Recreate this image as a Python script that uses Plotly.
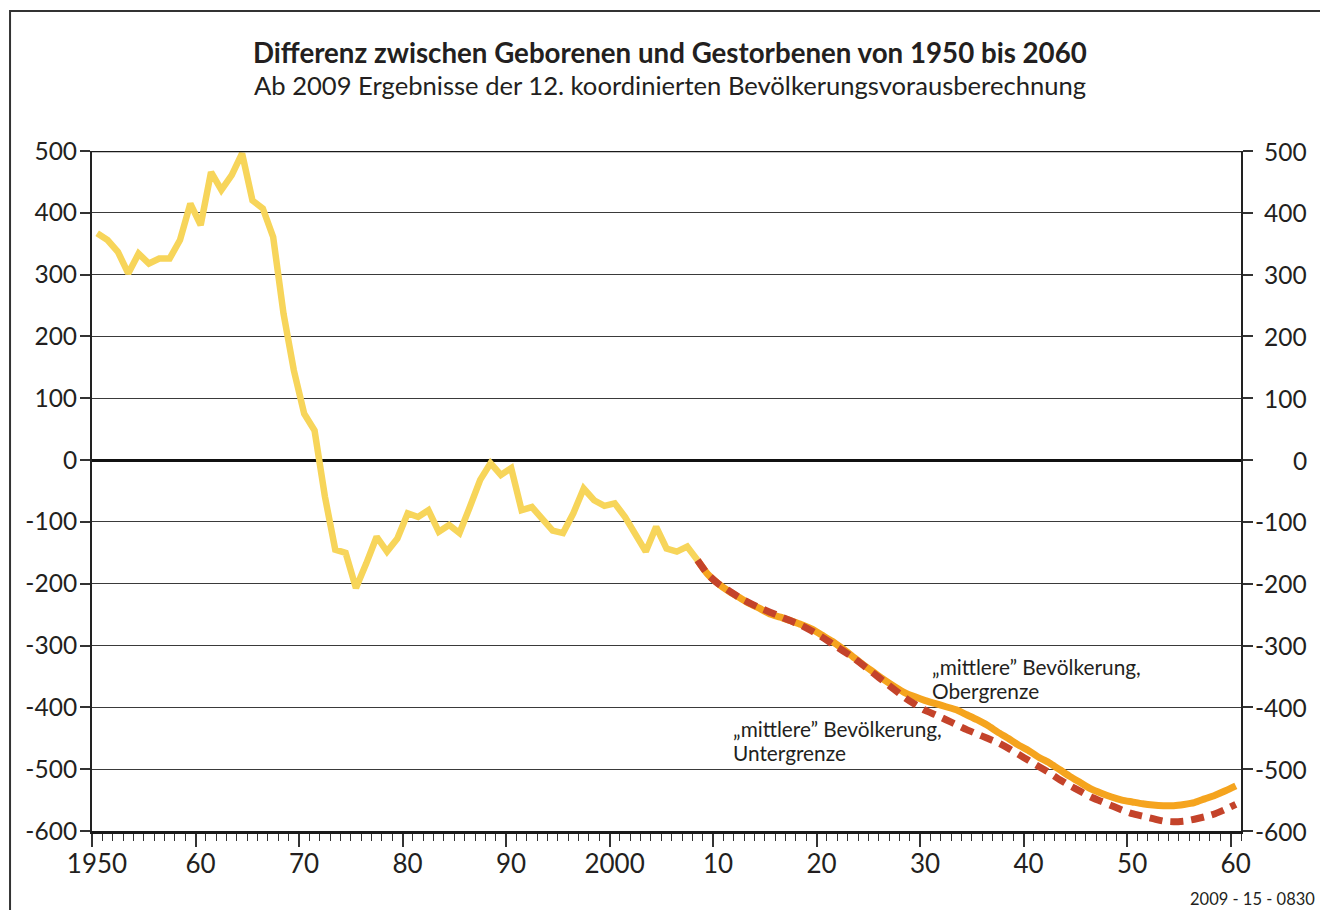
import plotly.graph_objects as go

# ---------------- data ----------------
hist_years = list(range(1950, 2009))
hist_values = [367, 356, 337, 302, 334, 318, 326, 326, 356, 415,
               380, 466, 437, 461, 496, 420, 407, 361, 237, 145,
               75, 48, -59, -145, -150, -207, -167, -124, -148, -127,
               -86, -92, -81, -116, -105, -118, -76, -32, -5, -24,
               -13, -81, -76, -97, -114, -118, -86, -46, -65, -74,
               -70, -92, -118, -148, -108, -143, -148, -140, -162]

proj_years = list(range(2008, 2061))
upper_values = [-162, -185, -200, -212, -222, -232, -240, -249, -254, -260,
                -266, -273, -283, -293, -305, -318, -331, -343, -355, -366,
                -376, -383, -389, -394, -399, -404, -412, -420, -429, -440,
                -450, -461, -470, -481, -490, -501, -512, -522, -532, -539,
                -545, -550, -553, -556, -558, -559, -559, -557, -554, -548,
                -542, -535, -527]
lower_values = [-162, -185, -200, -211, -222, -231, -239, -246, -253, -260,
                -267, -276, -286, -297, -308, -319, -332, -345, -358, -371,
                -384, -395, -405, -412, -420, -428, -436, -443, -450, -457,
                -466, -476, -486, -496, -506, -517, -527, -536, -545, -552,
                -559, -566, -572, -576, -580, -584, -585, -584, -581, -577,
                -572, -565, -557]

x_tickvals = list(range(1950, 2061, 10))
x_ticktext = ["1950", "60", "70", "80", "90", "2000", "10", "20", "30", "40", "50", "60"]
y_tickvals = list(range(-600, 501, 100))
y_ticktext = [str(v) for v in y_tickvals]

title = "Differenz zwischen Geborenen und Gestorbenen von 1950 bis 2060"
subtitle = "Ab 2009 Ergebnisse der 12. koordinierten Bevölkerungsvorausberechnung"
label_upper = ["„mittlere” Bevölkerung,", "Obergrenze"]
label_lower = ["„mittlere” Bevölkerung,", "Untergrenze"]
source_code = "2009 - 15 - 0830"

# ---------------- layout constants ----------------
OFF = 8                      # page body margin offset
W, H = 1328 - OFF, 918 - 2 * OFF
PL, PR, PT, PB = 92, 1241.5, 151, 831   # plot area in window pixels
ML, MR, MT, MB = PL - OFF, (OFF + W) - PR, PT - OFF, (OFF + H) - PB
PW, PH = W - ML - MR, H - MT - MB
FONT = "Lato"
TXT = "#231f20"
GRID = "#3a3a3a"

def px_x(px):
    return (px - PL) / PW

def px_y(py):
    return (PB - py) / PH

# values are annual totals, drawn at mid-year
hx = [y + 0.5 for y in hist_years]
px_ = [y + 0.5 for y in proj_years]

fig = go.Figure()
fig.add_trace(go.Scatter(x=hx, y=hist_values, mode="lines",
                         line=dict(color="#F7D55A", width=6.5), showlegend=False))
fig.add_trace(go.Scatter(x=px_, y=upper_values, mode="lines",
                         line=dict(color="#F5A41E", width=7, shape="spline", smoothing=0.6),
                         showlegend=False))
fig.add_trace(go.Scatter(x=px_, y=lower_values, mode="lines",
                         line=dict(color="#C4432A", width=7, dash="13px,8px",
                                   shape="spline", smoothing=0.6),
                         showlegend=False))

annotations = [
    dict(text="<b>" + title + "</b>", xref="paper", yref="paper", x=px_x(670), y=px_y(52),
         xanchor="center", yanchor="middle", showarrow=False,
         font=dict(family=FONT, size=27.7, color=TXT)),
    dict(text=subtitle, xref="paper", yref="paper", x=px_x(670), y=px_y(85),
         xanchor="center", yanchor="middle", showarrow=False,
         font=dict(family=FONT, size=25.6, color=TXT)),
    dict(text=source_code, xref="paper", yref="paper", x=px_x(1318), y=px_y(899),
         xanchor="right", yanchor="middle", showarrow=False,
         font=dict(family=FONT, size=16.5, color=TXT)),
]
for lines, x0, y0 in [(label_upper, 930, 666), (label_lower, 731, 728)]:
    for i, line in enumerate(lines):
        annotations.append(dict(text=line, xref="paper", yref="paper", x=px_x(x0),
                                y=px_y(y0 + 24 * i), xanchor="left", yanchor="middle",
                                showarrow=False, font=dict(family=FONT, size=20.8, color=TXT)))
for v, t in zip(y_tickvals, y_ticktext):
    annotations.append(dict(text=t, xref="paper", yref="y", x=px_x(1310), y=v,
                            xanchor="right", yanchor="middle", showarrow=False,
                            font=dict(family=FONT, size=24.5, color=TXT)))

shapes = [
    dict(type="rect", xref="paper", yref="paper", x0=px_x(10), x1=px_x(1345),
         y0=px_y(935), y1=px_y(11), line=dict(color="#333333", width=2), layer="below"),
    dict(type="line", xref="paper", yref="y", x0=0, x1=1, y0=500, y1=500,
         line=dict(color="#1a1a1a", width=2.5)),
]

fig.update_layout(
    width=W, height=H,
    margin=dict(l=ML, r=MR, t=MT, b=MB, autoexpand=False),
    paper_bgcolor="white", plot_bgcolor="white",
    font=dict(family=FONT, color=TXT),
    showlegend=False,
    annotations=annotations,
    shapes=shapes,
    xaxis=dict(range=[1950, 2061], tickvals=x_tickvals, ticktext=x_ticktext,
               ticks="outside", ticklen=13, tickwidth=1.5, tickcolor="#333333",
               tickfont=dict(family=FONT, size=26, color=TXT),
               ticklabelshift=5, ticklabelstandoff=-5,
               showgrid=False, zeroline=False,
               showline=True, linewidth=2.5, linecolor="#1a1a1a", mirror=False,
               minor=dict(ticks="outside", ticklen=7, tickwidth=1.2, dtick=1, tick0=1950,
                          tickcolor="#333333", showgrid=False),
               automargin=False, fixedrange=True),
    yaxis=dict(range=[-600, 500], tickvals=y_tickvals, ticktext=y_ticktext,
               ticks="outside", ticklen=10, tickwidth=1.5, tickcolor="#333333",
               tickfont=dict(family=FONT, size=24.5, color=TXT),
               ticklabelstandoff=-2,
               showgrid=True, gridcolor=GRID, gridwidth=1.3,
               zeroline=True, zerolinecolor="#111111", zerolinewidth=2.5,
               showline=True, linewidth=2, linecolor="#222222", mirror="ticks",
               automargin=False, fixedrange=True),
)

fig.write_html("out.html")
